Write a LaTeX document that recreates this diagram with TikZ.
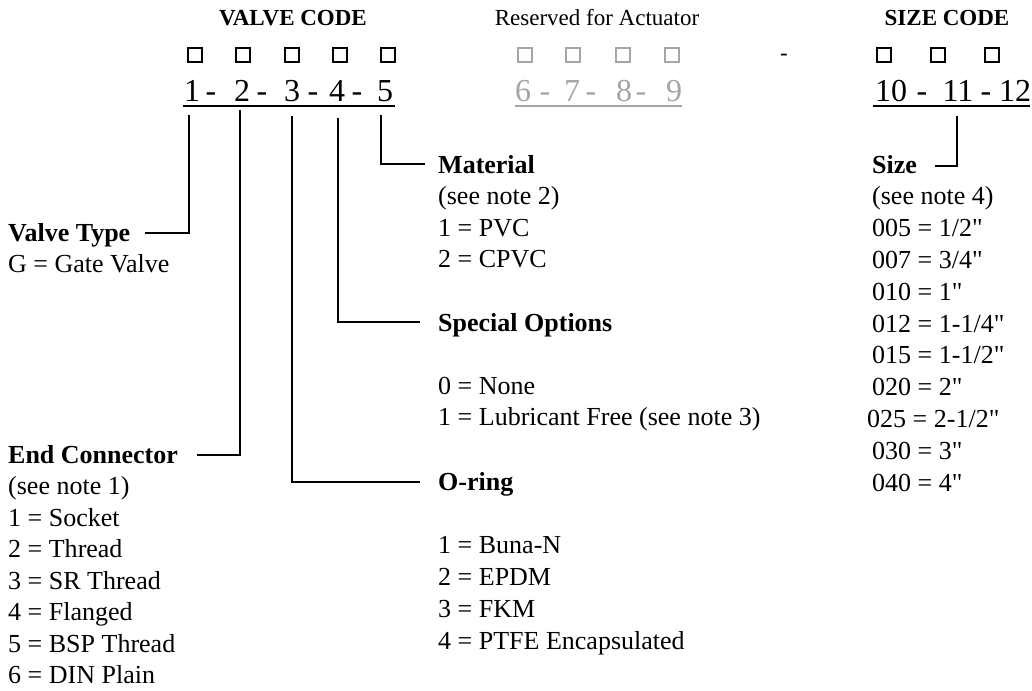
\documentclass[tikz,border=0pt]{standalone}
\usepackage{fontspec}
\setmainfont{Liberation Serif}
\definecolor{resgray}{RGB}{165,165,165}
\newcommand\inch{\XeTeXglyph\XeTeXglyphindex "quotedbl" }
\begin{document}
\begin{tikzpicture}[x=1pt,y=-1pt,
  txt/.style={font=\fontsize{26}{30}\selectfont, anchor=base west, inner sep=0pt},
  hd/.style={font=\fontsize{26}{30}\selectfont\bfseries, anchor=base west, inner sep=0pt},
  top/.style={font=\fontsize{23}{26}\selectfont, anchor=base, inner sep=0pt},
  topb/.style={font=\fontsize{23}{26}\selectfont\bfseries, anchor=base, inner sep=0pt},
  code/.style={font=\fontsize{32}{34}\selectfont, anchor=base, inner sep=0pt},
  codegray/.style={code, text=resgray},
  box/.style={draw, line width=1.9pt, minimum size=14pt, inner sep=0pt},
  graybox/.style={box, draw=resgray, line width=1.8pt},
  conn/.style={line width=2.2pt},
  uline/.style={line width=2pt}]
\useasboundingbox (0,0) rectangle (1032,690);

% headers
\node[topb] (hvc) at (293,26) {VALVE CODE};
\node[top] (hra) at (597,26) {Reserved for Actuator};
\node[topb] (hsc) at (947,26) {SIZE CODE};

% boxes
\foreach \x [count=\i] in {195,243,292,340,388} \node[box] (b\i) at (\x,55) {};
\foreach \x [count=\i from 6] in {525,573,623,672} \node[graybox] (b\i) at (\x,55) {};
\node[top] (bdash) at (784,61) {-};
\foreach \x [count=\i from 10] in {884,938,992} \node[box] (b\i) at (\x,55) {};

% code digits
\foreach \x/\t [count=\i] in {192/1,211/-,242/2,262/-,292/3,313/-,337/4,357/-,385/5}
  \node[code] (c\i) at (\x,102) {\t};
\foreach \x/\t [count=\i] in {523/6,545/-,572/7,591/-,624/8,641/-,674/9}
  \node[codegray] (g\i) at (\x,102) {\t};
\foreach \x/\t [count=\i] in {891/10,922/-,958/11,986/-,1015/12}
  \node[code] (s\i) at (\x,102) {\t};
\coordinate (u1a) at (183,106); \coordinate (u1b) at (395,106);
\coordinate (u2a) at (515,106); \coordinate (u2b) at (682,106);
\coordinate (u3a) at (873,106); \coordinate (u3b) at (1030,106);
\draw[uline] (u1a) -- (u1b);
\draw[uline,resgray] (u2a) -- (u2b);
\draw[uline] (u3a) -- (u3b);

% left column
\node[hd] (vt) at (8,241) {Valve Type};
\node[txt] (vt1) at (8,272.6) {G = Gate Valve};
\node[hd] (ec) at (8,463) {End Connector};
\foreach \t [count=\i] in {(see note 1),1 = Socket,2 = Thread,3 = SR Thread,4 = Flanged,5 = BSP Thread,6 = DIN Plain}
  \node[txt] (ec\i) at (8,{463+\i*31.5}) {\t};

% middle column
\node[hd] (mat) at (438,173) {Material};
\foreach \t [count=\i] in {(see note 2),1 = PVC,2 = CPVC}
  \node[txt] (mat\i) at (438,{173+\i*31.6}) {\t};
\node[hd] (so) at (438,331) {Special Options};
\node[txt] (so1) at (438,394.2) {0 = None};
\node[txt] (so2) at (438,425.8) {1 = Lubricant Free (see note 3)};
\node[hd] (or) at (438,490) {O-ring};
\foreach \t [count=\i] in {1 = Buna-N,2 = EPDM,3 = FKM,4 = PTFE Encapsulated}
  \node[txt] (or\i) at (438,{490+(\i+1)*31.8}) {\t};

% size column
\node[hd] (sz) at (872,173) {Size};
\foreach \t [count=\i] in {(see note 4),005 = 1/2\inch,007 = 3/4\inch,010 = 1\inch,012 = 1-1/4\inch,015 = 1-1/2\inch,020 = 2\inch}
  \node[txt] (sz\i) at (872,{173+\i*31.8}) {\t};
\node[txt] (sz8) at (867,{173+8*31.8}) {025 = 2-1/2\inch};
\node[txt] (sz9) at (872,{173+9*31.8}) {030 = 3\inch};
\node[txt] (sz10) at (872,{173+10*31.8}) {040 = 4\inch};

% connectors
\coordinate (t1) at (189,115); \coordinate (vtE) at (145,233);
\coordinate (t2) at (240,110); \coordinate (ecE) at (197,455);
\coordinate (t3) at (292,116); \coordinate (orW) at (420,482);
\coordinate (t4) at (338,118); \coordinate (soW) at (420,322);
\coordinate (t5) at (381,115); \coordinate (matW) at (425,164);
\coordinate (t6) at (957,116); \coordinate (szE) at (935,166);
\draw[conn] (t1) |- (vtE);
\draw[conn] (t2) |- (ecE);
\draw[conn] (t3) |- (orW);
\draw[conn] (t4) |- (soW);
\draw[conn] (t5) |- (matW);
\draw[conn] (t6) |- (szE);
\end{tikzpicture}
\end{document}
